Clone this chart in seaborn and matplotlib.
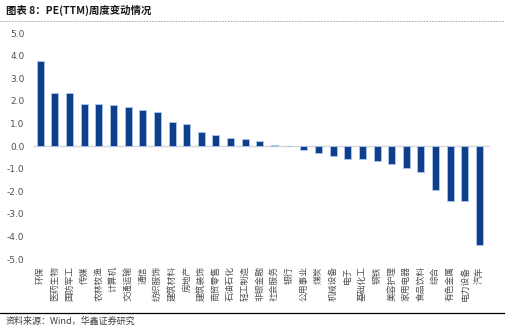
import matplotlib
matplotlib.use("Agg")
import matplotlib.pyplot as plt
import seaborn as sns
import pandas as pd
from matplotlib.lines import Line2D

industries = ["环保", "医药生物", "国防军工", "传媒", "农林牧渔", "计算机", "交通运输", "通信",
              "纺织服饰", "建筑材料", "房地产", "建筑装饰", "商贸零售", "石油石化", "轻工制造",
              "非银金融", "社会服务", "银行", "公用事业", "煤炭", "机械设备", "电子", "基础化工",
              "钢铁", "美容护理", "家用电器", "食品饮料", "综合", "有色金属", "电力设备", "汽车"]
pe_change = [3.76, 2.35, 2.33, 1.87, 1.86, 1.82, 1.72, 1.60,
             1.51, 1.07, 0.99, 0.61, 0.50, 0.36, 0.32,
             0.21, 0.06, 0.00, -0.17, -0.32, -0.42, -0.59, -0.59,
             -0.66, -0.81, -0.97, -1.14, -1.93, -2.42, -2.45, -4.37]
yticks = [-5.0, -4.0, -3.0, -2.0, -1.0, 0.0, 1.0, 2.0, 3.0, 4.0, 5.0]

title = "图表 8：PE(TTM)周度变动情况"
source = "资料来源：Wind，华鑫证券研究"

sns.set_theme(style="white")
plt.rcParams['font.family'] = ['Noto Sans CJK SC', 'DejaVu Sans']

df = pd.DataFrame({"industry": industries, "value": pe_change})

fig = plt.figure(figsize=(5.06, 3.28), dpi=100)
ax = fig.add_axes([0.065, 0.21, 0.903, 0.689])

sns.barplot(data=df, x="industry", y="value", color="#0d3f8c", width=0.48,
            edgecolor="#a9c4e8", linewidth=0.7, saturation=1, ax=ax)

ax.set_ylim(-5, 5)
ax.set_xlim(-0.5, 30.7)
ax.set_yticks(yticks)
ax.set_yticklabels([f"{v:.1f}" for v in yticks], fontsize=6.5, color="#505050",
                   family=['DejaVu Sans'])
ax.tick_params(axis='y', length=0, pad=6)
ax.tick_params(axis='x', length=0, pad=5)
ax.set_xticks(range(len(industries)))
ax.set_xticklabels(industries, rotation=90, fontsize=6.3, color="#505050",
                   va="top", ha="center")
ax.set_xlabel("")
ax.set_ylabel("")
for s in ax.spines.values():
    s.set_visible(False)
ax.axhline(0, color="#d9d9d9", linewidth=1.0, zorder=0)

fig.text(0.012, 0.968, title, fontsize=7.5, fontweight="bold", color="#1a1a1a",
         va="center", ha="left")
fig.add_artist(Line2D([0, 1], [0.935, 0.935], color="#9a9a9a", linewidth=0.6,
                      linestyle=(0, (2, 1.5)), transform=fig.transFigure))
fig.add_artist(Line2D([0, 1], [0.046, 0.046], color="black", linewidth=0.9,
                      transform=fig.transFigure))
fig.text(0.012, 0.022, source, fontsize=6.5, color="#404040", va="center", ha="left")

fig.savefig("out.png", dpi=100)
